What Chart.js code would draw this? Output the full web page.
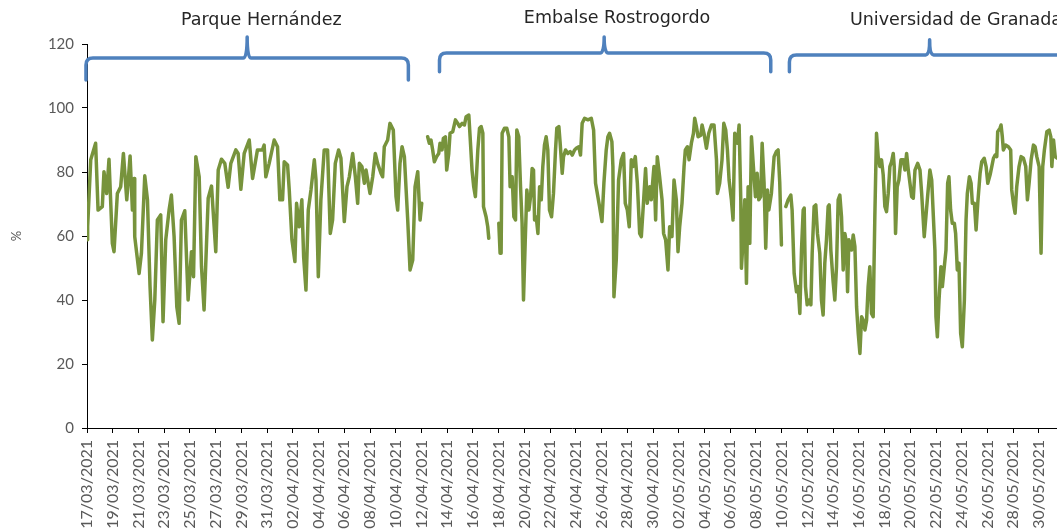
<!DOCTYPE html>
<html>
<head>
<meta charset="utf-8">
<script src="https://cdn.jsdelivr.net/npm/chart.js@4"></script>
<style>
  html, body { margin: 0; padding: 0; background: #fff; overflow: hidden; }
  #wrap { width: 1057px; height: 529px; position: relative; }
</style>
</head>
<body>
<div id="wrap"><canvas id="humidityChart"></canvas></div>
<script>
// Relative humidity (%) at three monitoring sites, spring 2021
// x values are days since 17/03/2021 00:00

var siteNames = ['Parque Hernández', 'Embalse Rostrogordo', 'Universidad de Granada'];

var yTicks = [0, 20, 40, 60, 80, 100, 120];

// Parque Hernández
var parqueDays = [0.0, 0.05, 0.29, 0.67, 0.86, 1.19, 1.32, 1.53, 1.71, 1.97, 2.10, 2.36, 2.62, 2.83, 3.09, 3.35, 3.53, 3.66, 3.71, 4.05,
  4.23, 4.49, 4.70, 4.90, 5.08, 5.27, 5.47, 5.73, 5.91, 6.12, 6.38, 6.56, 6.77, 6.98, 7.16, 7.34, 7.60, 7.86, 8.12, 8.28,
  8.46, 8.72, 8.90, 9.10, 9.42, 9.68, 10.01, 10.20, 10.45, 10.71, 10.97, 11.18, 11.57, 11.75, 11.96, 12.22, 12.61, 12.87,
  13.25, 13.64, 13.77, 13.90, 14.16, 14.55, 14.81, 14.99, 15.20, 15.33, 15.59, 15.72, 15.93, 16.16, 16.29, 16.50, 16.70, 16.84,
  17.02, 17.20, 17.41, 17.67, 17.80, 17.98, 18.18, 18.44, 18.70, 18.91, 19.09, 19.30, 19.56, 19.74, 20.00, 20.21, 20.39, 20.65,
  20.86, 21.04, 21.17, 21.37, 21.56, 21.69, 21.82, 22.00, 22.21, 22.41, 22.59, 22.85, 22.98, 23.11, 23.37, 23.55, 23.81, 24.02,
  24.15, 24.33, 24.49, 24.67, 24.93, 25.11, 25.32, 25.50, 25.71, 25.89, 26.02];
var parqueValues = [58.8, 62.9, 83.8, 89, 68.1, 69.2, 80.1, 73.3, 84, 57.7, 55.1, 73.3, 75.4, 85.8, 71.3, 85, 68.1, 78, 59.8, 48.3,
  54.6, 78.8, 71.3, 44.2, 27.5, 40, 65, 66.6, 33.2, 58.8, 68.1, 72.8, 59.8, 37.9, 32.7, 65, 67.9, 40, 55.1, 47.3,
  84.8, 78.5, 50.4, 36.9, 71.8, 75.6, 55.1, 80.6, 84, 82.7, 75.2, 82.7, 86.9, 85.8, 74.6, 85.8, 90, 78,
  86.9, 86.9, 88.4, 78.5, 82.7, 90, 87.9, 71.3, 71.3, 83.2, 82.2, 74.4, 58.8, 52, 70.2, 62.9, 71.3, 53.5,
  43.1, 68.1, 74.4, 83.8, 77.5, 47.3, 71.3, 86.9, 86.9, 60.8, 65, 82.7, 86.9, 84.3, 64.5, 75.4, 78.5, 85.8,
  78.5, 70.2, 82.7, 81.7, 76.5, 80.6, 77.5, 73.3, 78.5, 85.8, 82.7, 79.6, 78.5, 87.9, 90, 95.2, 93.1, 72.3,
  68.1, 82.7, 87.9, 84.8, 65, 49.4, 52.5, 75.4, 80.1, 65, 70.2];

// Embalse Rostrogordo (null = missing record)
var embalseDays = [26.48, 26.61, 26.74, 26.87, 27.00, 27.18, 27.34, 27.44, 27.60, 27.70, 27.86, 27.96, 28.12, 28.22, 28.43, 28.64,
  28.82, 28.95, 29.16, 29.34, 29.47, 29.68, 29.78, 29.93, 30.06, 30.19, 30.38, 30.51, 30.64, 30.77, 30.82, 31.02, 31.15, 31.23,
  31.6,
  32.01, 32.11, 32.19, 32.27, 32.45, 32.63, 32.79, 32.89, 33.05, 33.18, 33.31, 33.41, 33.56, 33.70, 33.82, 33.93, 34.06, 34.19,
  34.35, 34.48, 34.60, 34.71, 34.79, 34.92, 35.05, 35.18, 35.31, 35.43, 35.56, 35.69, 35.82, 35.95, 36.11, 36.26, 36.42, 36.52,
  36.68, 36.78, 36.94, 37.04, 37.20, 37.38, 37.56, 37.72, 37.90, 38.03, 38.23, 38.36, 38.49, 38.68, 38.94, 39.20, 39.38, 39.53,
  39.71, 39.84,
  40.03, 40.18, 40.36, 40.49, 40.62, 40.80, 40.88, 40.96, 41.14, 41.32, 41.53, 41.71, 41.84, 42.00, 42.15, 42.31, 42.44, 42.62,
  42.78, 42.96, 43.09, 43.27, 43.42, 43.55, 43.74, 43.86, 44.07, 44.20, 44.33, 44.51, 44.70, 44.82, 44.98, 45.16, 45.29, 45.47,
  45.63, 45.81, 45.94, 46.07, 46.25, 46.41, 46.51, 46.67, 46.80, 46.98, 47.14, 47.24, 47.37, 47.50, 47.71, 47.81, 47.96, 48.15,
  48.33, 48.54, 48.74, 48.93, 49.00, 49.18, 49.36, 49.50, 49.65, 49.78, 49.91, 50.09, 50.22, 50.35, 50.56, 50.69, 50.82, 50.87,
  51.00, 51.13, 51.26, 51.39, 51.52, 51.65, 51.80, 51.96, 52.09, 52.22, 52.37, 52.48, 52.63, 52.76, 52.89, 53.00, 53.20, 53.41,
  53.59, 53.72, 53.85, 53.98];
var embalseValues = [91, 89, 90, 86.9, 83.2, 84.8, 85.8, 89, 86.9, 90.5, 91, 80.6, 85.8, 92.1, 92.6, 96.3,
  95.2, 94.2, 95.2, 94.7, 97.3, 97.8, 91, 80.6, 75.4, 72.3, 86.9, 93.7, 94.2, 92.1, 69.2, 66, 62.9, 59.3,
  null,
  64, 54.6, 54.6, 92.1, 93.7, 93.7, 91, 75.4, 78.5, 66, 65, 93.1, 91, 75.4, 64, 40, 57.7, 74.4,
  68.1, 72.3, 81.1, 80.6, 65, 66, 60.8, 75.4, 71.3, 81.7, 88.4, 91, 86.9, 68.1, 66, 73.3, 86.9, 93.7,
  94.2, 89, 79.6, 84.8, 86.9, 85.8, 86.4, 85.3, 86.9, 87.4, 87.9, 85.3, 95.2, 96.8, 96.3, 96.8, 93.1, 76.5,
  72.3, 69.2,
  64.5, 76.5, 86.9, 91, 92.1, 89.5, 81.7, 41, 52.5, 77.5, 83.8, 85.8, 70.2, 68.1, 62.9, 83.8, 81.7, 84.8,
  76.5, 60.8, 59.8, 71.3, 81.1, 70.2, 75.4, 71.3, 81.7, 65, 84.8, 78.5, 71.3, 60.8, 58.8, 49.4, 62.9, 59.8,
  77.5, 71.3, 55.1, 62.9, 70.2, 81.7, 86.9, 87.9, 83.8, 89, 92.1, 96.8, 94.2, 91, 91.5, 94.7, 92.1, 87.4,
  92.1, 94.7, 94.7, 83.8, 73.3, 76.5, 83.8, 95.2, 93.1, 86.9, 77.5, 71.3, 65, 92.1, 89, 94.7, 71.3, 49.9,
  58.8, 71.3, 45.2, 75.4, 57.7, 91, 81.7, 72.3, 79.6, 71.3, 72.3, 89, 76.5, 56.2, 74.4, 68.1, 73.3, 84.8,
  86.4, 86.9, 76.5, 57.2];

// Universidad de Granada
var granadaDays = [54.32, 54.50, 54.71, 54.81, 54.97, 55.15, 55.28, 55.41, 55.54, 55.67, 55.75, 55.85, 55.98, 56.14, 56.27, 56.37,
  56.52, 56.65, 56.78, 56.96, 57.09, 57.22, 57.35, 57.48, 57.61, 57.69, 57.82, 58.00, 58.13, 58.26, 58.39, 58.52, 58.65, 58.78,
  58.91, 59.04, 59.12, 59.22, 59.43, 59.56, 59.69, 59.82, 59.95, 60.08, 60.21, 60.34, 60.47, 60.60, 60.72, 60.85, 60.98, 61.11,
  61.24, 61.37, 61.50, 61.63, 61.76, 61.89, 62.02, 62.15, 62.28, 62.41, 62.54, 62.67, 62.75, 62.85, 62.98, 63.11, 63.27, 63.45,
  63.58, 63.71, 63.84, 63.97, 64.10, 64.23, 64.36, 64.57, 64.75, 64.88, 65.08,
  65.34, 65.52, 65.66, 65.79, 65.91, 65.99, 66.10, 66.23, 66.38, 66.49, 66.64, 66.77, 66.90, 67.00, 67.13, 67.26, 67.42, 67.52,
  67.65, 67.78, 67.91, 68.04, 68.20, 68.33, 68.43, 68.59, 68.72, 68.82, 68.98, 69.11, 69.24, 69.42, 69.55, 69.74, 69.89, 70.02,
  70.20, 70.33, 70.46, 70.59, 70.72, 70.79, 70.97, 71.05, 71.15, 71.23, 71.41, 71.62, 71.80, 71.88, 72.01, 72.14, 72.27, 72.45,
  72.61, 72.79, 72.97, 73.10, 73.23, 73.39, 73.57, 73.70, 73.83, 74.01, 74.16, 74.29, 74.42, 74.61, 74.79, 74.92, 75.00, 75.13,
  75.26, 75.41];
var granadaValues = [69.2, 71.3, 72.8, 68.1, 48.3, 42.6, 44.2, 35.8, 55.6, 68.1, 68.7, 44.2, 38.5, 40, 38.5, 54.6,
  69.2, 69.7, 60.8, 54.6, 40, 35.3, 51.5, 58.8, 69.2, 69.7, 55.6, 45.7, 40, 50.4, 71.3, 72.8, 66, 49.4,
  60.8, 57.7, 42.6, 58.8, 55.6, 60.3, 56.7, 37.9, 29.6, 23.3, 34.8, 33.7, 30.6, 33.7, 44.2, 50.4, 35.8, 34.8,
  66, 92.1, 84.8, 81.7, 83.8, 79.1, 69.2, 67.6, 73.3, 81.7, 83.2, 85.8, 81.7, 60.8, 75.4, 77.5, 83.8, 83.8,
  80.6, 85.8, 80.6, 76.5, 72.3, 71.8, 80.6, 82.7, 80.6, 73.3, 59.8,
  72.3, 80.6, 77.5, 66, 55.6, 34.8, 28.5, 40, 50.4, 44.2, 50.4, 55.6, 76.5, 78.5, 68.1, 64, 64, 60.8,
  49.4, 51.5, 29.6, 25.4, 40, 65, 73.3, 78.5, 76.5, 70.2, 70.2, 61.9, 70.2, 79.6, 83.2, 84.3, 81.7, 76.5,
  79.1, 81.7, 84.3, 85.3, 84.8, 92.6, 93.7, 94.7, 91, 86.9, 88.4, 87.9, 86.9, 74.4, 70.2, 67.1, 75.4, 81.7,
  84.8, 84.3, 81.7, 71.3, 76.5, 83.8, 88.4, 87.9, 84.8, 81.7, 54.6, 81.7, 86.9, 92.6, 93.1, 91, 81.7, 90,
  84.8, 84.3];

/**
 * Turn a day offset into a dd/mm/yyyy label
 */
function dayLabel(day) {
  var d = new Date(Date.UTC(2021, 2, 17 + Math.round(day)));
  var dd = String(d.getUTCDate()).padStart(2, '0');
  var mm = String(d.getUTCMonth() + 1).padStart(2, '0');
  return dd + '/' + mm + '/' + d.getUTCFullYear();
}

function toPoints(days, values) {
  return days.map(function (d, i) { return { x: d, y: values[i] }; });
}

// one line, with breaks between the sites
var linePoints = []
  .concat(toPoints(parqueDays, parqueValues))
  .concat([{ x: 26.25, y: null }])
  .concat(toPoints(embalseDays, embalseValues))
  .concat([{ x: 54.15, y: null }])
  .concat(toPoints(granadaDays, granadaValues));

// curly brackets above each site: start/end/tip in days, heights in %
var brackets = [
  { name: siteNames[0], from: -0.08, to: 24.98, tip: 12.45, end: 108.75, bar: 115.6, top: 122.2, text: 13.55, textY: 127.4, align: 'center' },
  { name: siteNames[1], from: 27.4, to: 53.15, tip: 40.2, end: 111.3, bar: 117.2, top: 122.2, text: 41.2, textY: 128.0, align: 'center' },
  { name: siteNames[2], from: 54.6, to: 90, tip: 65.5, end: 111.3, bar: 116.6, top: 121.3, text: 59.3, textY: 127.4, align: 'left' }
];

var bracketPlugin = {
  id: 'siteBrackets',
  afterDraw: function (chart) {
    var ctx = chart.ctx;
    var xs = chart.scales.x;
    var ys = chart.scales.y;
    ctx.save();
    brackets.forEach(function (b) {
      var x0 = xs.getPixelForValue(b.from);
      var x1 = xs.getPixelForValue(b.to);
      var xm = xs.getPixelForValue(b.tip);
      var yEnd = ys.getPixelForValue(b.end);
      var yBar = ys.getPixelForValue(b.bar);
      var yTop = ys.getPixelForValue(b.top);
      var r = 7;
      ctx.beginPath();
      ctx.moveTo(x0, yEnd);
      ctx.lineTo(x0, yBar + r);
      ctx.quadraticCurveTo(x0, yBar, x0 + r, yBar);
      ctx.lineTo(xm - 4, yBar);
      ctx.quadraticCurveTo(xm, yBar, xm, yTop);
      ctx.quadraticCurveTo(xm, yBar, xm + 4, yBar);
      ctx.lineTo(x1 - r, yBar);
      ctx.quadraticCurveTo(x1, yBar, x1, yBar + r);
      ctx.lineTo(x1, yEnd);
      ctx.strokeStyle = '#4F81BD';
      ctx.lineWidth = 3.5;
      ctx.lineJoin = 'round';
      ctx.lineCap = 'round';
      ctx.stroke();

      ctx.fillStyle = '#262626';
      ctx.font = '17.5px "DejaVu Sans"';
      ctx.textAlign = b.align;
      ctx.textBaseline = 'middle';
      ctx.fillText(b.name, xs.getPixelForValue(b.text), ys.getPixelForValue(b.textY));
    });
    ctx.restore();
  }
};

var ctx = document.getElementById('humidityChart').getContext('2d');
var chart = new Chart(ctx, {
  type: 'line',
  data: {
    datasets: [
      {
        label: 'Humedad relativa',
        data: linePoints,
        borderColor: '#77933C',
        borderWidth: 3.5,
        pointRadius: 0,
        tension: 0,
        spanGaps: false,
        borderJoinStyle: 'round',
        borderCapStyle: 'round'
      }
    ]
  },
  options: {
    responsive: true,
    maintainAspectRatio: false,
    animation: false,
    layout: { padding: { top: 44, right: 0, bottom: 0, left: 0 } },
    plugins: {
      legend: { display: false },
      tooltip: { enabled: false }
    },
    scales: {
      x: {
        type: 'linear',
        min: 0,
        max: 75.4,
        grid: { drawOnChartArea: false, drawTicks: true, tickLength: 5, color: '#000' },
        border: { color: '#000', width: 1 },
        ticks: {
          stepSize: 2,
          includeBounds: false,
          autoSkip: false,
          minRotation: 90,
          maxRotation: 90,
          padding: 7,
          color: '#595959',
          font: { family: 'Lato', size: 16 },
          callback: function (value) {
            return dayLabel(value);
          }
        },
        afterFit: function (axis) {
          axis.height = 101;
          axis.paddingLeft = 0;
          axis.paddingRight = 0;
        }
      },
      y: {
        min: yTicks[0],
        max: yTicks[yTicks.length - 1],
        grid: { drawOnChartArea: false, drawTicks: true, tickLength: 5, color: '#000' },
        border: { color: '#000', width: 1 },
        ticks: {
          stepSize: 20,
          padding: 8,
          color: '#595959',
          font: { family: 'Lato', size: 15 }
        },
        title: {
          display: true,
          text: '%',
          color: '#595959',
          font: { family: 'Lato', size: 13 },
          padding: { top: 9, bottom: 0 }
        },
        afterFit: function (axis) {
          axis.width = 87;
        }
      }
    }
  },
  plugins: [bracketPlugin]
});
</script>
</body>
</html>
